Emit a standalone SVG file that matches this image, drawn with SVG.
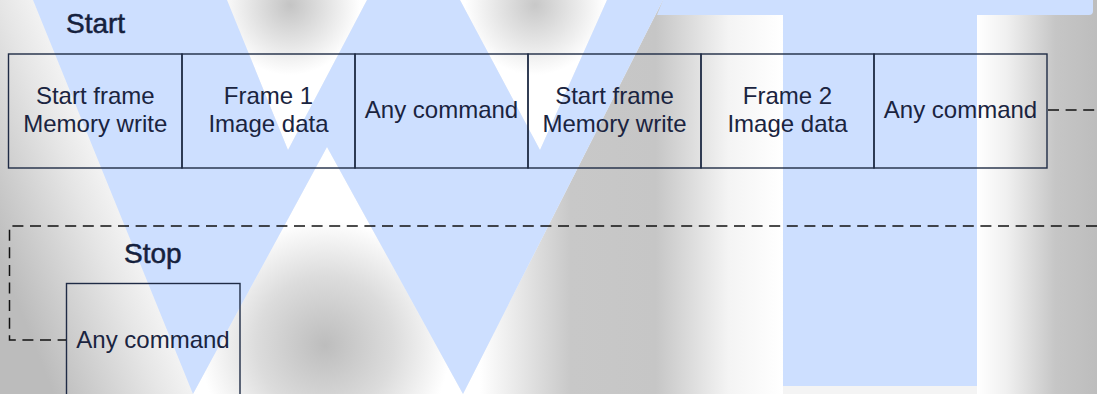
<svg xmlns="http://www.w3.org/2000/svg" width="1097" height="394" viewBox="0 0 1097 394">
<style>
.box{fill:none;stroke:#1f2b45;stroke-width:1.4}
.t{font-family:"Liberation Sans",Arial,sans-serif;font-size:24px;fill:#1a2440;text-anchor:middle}
.h{font-family:"Liberation Sans",Arial,sans-serif;font-size:28px;fill:#15213d;stroke:#15213d;stroke-width:0.5}
.dash{fill:none;stroke:#111;stroke-width:1.5;stroke-dasharray:11 6.6}
.wm{fill:#cddfff}
</style>
<defs>
<linearGradient id="gL" gradientUnits="userSpaceOnUse" x1="0" y1="260" x2="150" y2="200">
<stop offset="0" stop-color="#bcbcbc"/><stop offset="0.6" stop-color="#e6e6e6"/><stop offset="1" stop-color="#ffffff"/>
</linearGradient>
<radialGradient id="gU" gradientUnits="userSpaceOnUse" cx="325" cy="345" r="125">
<stop offset="0" stop-color="#bdbdbd"/><stop offset="0.55" stop-color="#dcdcdc"/><stop offset="1" stop-color="#ffffff"/>
</radialGradient>
<radialGradient id="gN" gradientUnits="userSpaceOnUse" cx="290" cy="5" r="70">
<stop offset="0" stop-color="#c4c4c4"/><stop offset="1" stop-color="#ffffff"/>
</radialGradient>
<radialGradient id="gN2" gradientUnits="userSpaceOnUse" cx="535" cy="5" r="70">
<stop offset="0" stop-color="#c8c8c8"/><stop offset="1" stop-color="#ffffff"/>
</radialGradient>
<linearGradient id="gM" gradientUnits="userSpaceOnUse" x1="480" y1="0" x2="783" y2="0">
<stop offset="0" stop-color="#ffffff"/><stop offset="0.3" stop-color="#c8c8c8"/><stop offset="0.58" stop-color="#c6c6c6"/><stop offset="0.82" stop-color="#f4f4f4"/><stop offset="1" stop-color="#ffffff"/>
</linearGradient>
<linearGradient id="gR" gradientUnits="userSpaceOnUse" x1="977" y1="0" x2="1097" y2="0">
<stop offset="0" stop-color="#ffffff"/><stop offset="0.25" stop-color="#f0f0f0"/><stop offset="0.65" stop-color="#c6c6c6"/><stop offset="1" stop-color="#bdbdbd"/>
</linearGradient>
</defs>
<g id="background">
<rect x="0" y="0" width="1097" height="394" fill="#f4f4f4"/>
<polygon points="0,0 33,0 193,394 0,394" fill="url(#gL)"/>
<polygon points="327,147 193,394 463,394" fill="url(#gU)"/>
<polygon points="227,0 288,150 367,0" fill="url(#gN)"/>
<polygon points="460,0 540,150 607,0" fill="url(#gN2)"/>
<polygon points="663,0 783,0 783,394 463,394" fill="url(#gM)"/>
<rect x="977" y="0" width="120" height="394" fill="url(#gR)"/>
<polygon class="wm" points="33,0 227,0 288,150 367,0 460,0 540,150 607,0 663,0 463,394 327,147 193,394"/>
<path class="wm" d="M663,0 H1093 V11 Q1093,15 1089,15 H977 V386 H783 V15 H657 Z"/>
</g>
<text class="h" x="66" y="33">Start</text>
<text class="h" x="124" y="263">Stop</text>
<g id="node1"><rect class="box" x="8.5" y="54" width="173.5" height="114"/><text class="t" x="95.3" y="104">Start frame</text><text class="t" x="95.3" y="132">Memory write</text></g>
<g id="node2"><rect class="box" x="182" y="54" width="173" height="114"/><text class="t" x="268.5" y="104">Frame 1</text><text class="t" x="268.5" y="132">Image data</text></g>
<g id="node3"><rect class="box" x="355" y="54" width="173" height="114"/><text class="t" x="441.5" y="118">Any command</text></g>
<g id="node4"><rect class="box" x="528" y="54" width="173" height="114"/><text class="t" x="614.5" y="104">Start frame</text><text class="t" x="614.5" y="132">Memory write</text></g>
<g id="node5"><rect class="box" x="701" y="54" width="173" height="114"/><text class="t" x="787.5" y="104">Frame 2</text><text class="t" x="787.5" y="132">Image data</text></g>
<g id="node6"><rect class="box" x="874" y="54" width="173" height="114"/><text class="t" x="960.5" y="118">Any command</text></g>
<g id="node7"><rect class="box" x="66.5" y="283.5" width="173.5" height="130"/><text class="t" x="153" y="348">Any command</text></g>
<g id="connectors">
<path class="dash" d="M1048,110 H1097"/>
<path class="dash" d="M1097,226 H9.5 V340 H66"/>
</g>
</svg>
